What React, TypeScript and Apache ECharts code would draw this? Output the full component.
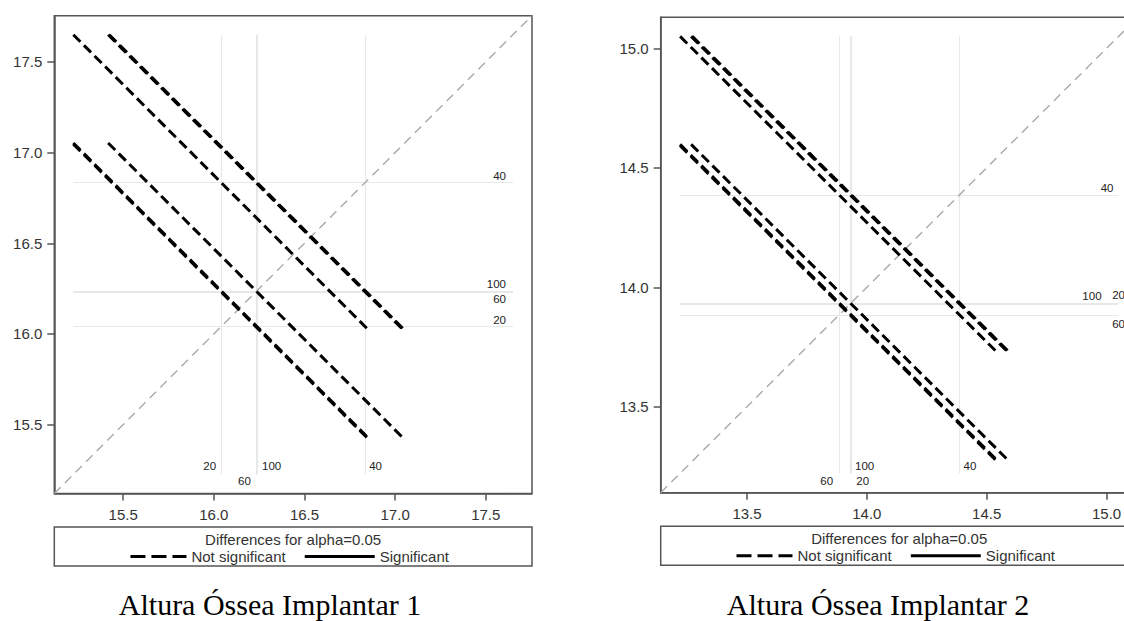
import { useEffect, useRef } from 'react';
import * as echarts from 'echarts';

// Group levels and their least-squares means
const levels = ['20', '40', '60', '100'];
const meansImplant1 = [16.04, 16.835, 16.232, 16.238];
const meansImplant2 = [13.935, 14.387, 13.884, 13.93];

// Half-width of the confidence interval of each pairwise difference
const diffHalfWidth1 = 1.63;
const diffHalfWidth2 = 1.326;

// Axis extents (same on both axes) and tick values
const axisRange1 = [15.12, 17.755];
const axisRange2 = [13.14, 15.13];
const ticks1 = [15.5, 16.0, 16.5, 17.0, 17.5];
const ticks2 = [13.5, 14.0, 14.5, 15.0];

const titles = ['Altura Óssea Implantar 1', 'Altura Óssea Implantar 2'];
const legendTitle = 'Differences for alpha=0.05';
const legendNotSig = 'Not significant';
const legendSig = 'Significant';

type Place = [number, number, 'left' | 'right'];

interface PanelLayout {
  left: number;
  top: number;
  width: number;
  height: number;
  titleX: number;
  bottomLabels: Record<string, Place>;
  sideLabels: Record<string, Place>;
}

const sansFont = "'Liberation Sans', Arial, Helvetica, sans-serif";
const serifFont = "'Liberation Serif', 'Times New Roman', serif";
const frameColor = '#555555';
const textColor = '#333333';
const levelLabelColor = '#222222';

const layouts: PanelLayout[] = [
  {
    left: 54.3,
    top: 15.7,
    width: 477.7,
    height: 477.8,
    titleX: 270,
    bottomLabels: {
      '20': [-5, -8, 'right'],
      '40': [4, -8, 'left'],
      '60': [-5, 7, 'right'],
      '100': [5, -8, 'left'],
    },
    sideLabels: {
      '40': [-7, -7, 'right'],
      '100': [-7, -7, 'right'],
      '60': [-7, 7.5, 'right'],
      '20': [-7, -7, 'right'],
    },
  },
  {
    left: 660.7,
    top: 17.3,
    width: 477,
    height: 475.4,
    titleX: 878,
    bottomLabels: {
      '20': [5, 8, 'left'],
      '40': [4, -7, 'left'],
      '60': [-6, 8, 'right'],
      '100': [5, -7, 'left'],
    },
    sideLabels: {
      '40': [-5, -7, 'right'],
      '100': [-17, -7.5, 'right'],
      '20': [6.5, -7.5, 'right'],
      '60': [6.5, 9, 'right'],
    },
  },
];

const panels = [
  { means: meansImplant1, half: diffHalfWidth1, range: axisRange1, ticks: ticks1 },
  { means: meansImplant2, half: diffHalfWidth2, range: axisRange2, ticks: ticks2 },
];

function buildOption() {
  const grid: any[] = [];
  const xAxis: any[] = [];
  const yAxis: any[] = [];
  const series: any[] = [];
  const graphic: any[] = [];

  panels.forEach((p, i) => {
    const L = layouts[i];
    const d = p.half / 2;
    const lo = Math.min(...p.means) - d;
    const hi = Math.max(...p.means) + d;

    grid.push({
      left: L.left,
      top: L.top,
      width: L.width,
      height: L.height,
      show: true,
      borderColor: frameColor,
      borderWidth: 1.5,
      backgroundColor: 'transparent',
    });

    const axisCommon = (ticks: number[]) => ({
      type: 'value',
      gridIndex: i,
      min: p.range[0],
      max: p.range[1],
      splitLine: { show: false },
      axisLine: { show: true, lineStyle: { color: frameColor, width: 1.5 } },
      axisTick: {
        show: true,
        customValues: ticks,
        length: 7,
        lineStyle: { color: frameColor, width: 1.5 },
      },
      axisLabel: {
        customValues: ticks,
        formatter: (v: number) => v.toFixed(1),
        fontSize: 15,
        fontFamily: sansFont,
        color: textColor,
      },
    });

    const xa: any = axisCommon(p.ticks);
    xa.axisLabel.margin = 13;
    const ya: any = axisCommon(p.ticks);
    ya.axisLabel.margin = 12;
    xAxis.push(xa);
    yAxis.push(ya);

    // reference lines at each mean
    const refLines: any[] = [];
    p.means.forEach((m) => {
      refLines.push({ coords: [[m, lo], [m, hi]] });
      refLines.push({ coords: [[lo, m], [hi, m]] });
    });
    series.push({
      type: 'lines',
      coordinateSystem: 'cartesian2d',
      xAxisIndex: i,
      yAxisIndex: i,
      silent: true,
      data: refLines,
      lineStyle: { color: '#e8e8e8', width: 1.2, opacity: 1 },
      z: 1,
    });

    // identity diagonal
    series.push({
      type: 'lines',
      coordinateSystem: 'cartesian2d',
      xAxisIndex: i,
      yAxisIndex: i,
      silent: true,
      data: [{ coords: [[p.range[0], p.range[0]], [p.range[1], p.range[1]]] }],
      lineStyle: { color: '#a9a9a9', width: 1.4, type: [9, 6], opacity: 1 },
      z: 2,
    });

    // one segment per pair of levels, centred on (smaller mean, larger mean)
    const notSig: any[] = [];
    const sig: any[] = [];
    for (let a = 0; a < levels.length; a++) {
      for (let b = a + 1; b < levels.length; b++) {
        const ma = p.means[a];
        const mb = p.means[b];
        const x = Math.min(ma, mb);
        const y = Math.max(ma, mb);
        const seg = { coords: [[x - d, y + d], [x + d, y - d]] };
        if (Math.abs(ma - mb) > p.half) sig.push(seg);
        else notSig.push(seg);
      }
    }
    series.push({
      type: 'lines',
      coordinateSystem: 'cartesian2d',
      xAxisIndex: i,
      yAxisIndex: i,
      silent: true,
      data: notSig,
      lineStyle: { color: '#000', width: 3, type: [10, 5], opacity: 1, cap: 'butt' },
      z: 3,
    });
    series.push({
      type: 'lines',
      coordinateSystem: 'cartesian2d',
      xAxisIndex: i,
      yAxisIndex: i,
      silent: true,
      data: sig,
      lineStyle: { color: '#000', width: 3, type: 'solid', opacity: 1 },
      z: 3,
    });

    // level labels at the ends of the reference lines
    const labelItem = (name: string, value: number[], place: Place) => ({
      name,
      value,
      label: {
        position: [place[0], place[1]],
        align: place[2],
        color: levelLabelColor,
      },
    });
    const labelData: any[] = [];
    levels.forEach((lv, k) => {
      const m = p.means[k];
      labelData.push(labelItem(lv, [m, lo], L.bottomLabels[lv]));
      labelData.push(labelItem(lv, [hi, m], L.sideLabels[lv]));
    });
    series.push({
      type: 'scatter',
      xAxisIndex: i,
      yAxisIndex: i,
      silent: true,
      symbol: 'rect',
      symbolSize: 0,
      itemStyle: { color: levelLabelColor, opacity: 0 },
      data: labelData,
      label: {
        show: true,
        formatter: (q: any) => q.name,
        fontSize: 11.5,
        fontFamily: sansFont,
        color: levelLabelColor,
        opacity: 1,
        textBorderWidth: 0,
        textBorderColor: 'transparent',
        verticalAlign: 'middle',
      },
      z: 4,
    });

    // legend box below the plot
    const boxTop = L.top + L.height + 33.5;
    const boxH = 39;
    const cx = L.left + L.width / 2;
    const row1 = boxTop + 12;
    const row2 = boxTop + 29.5;
    const textStyle = (text: string, align: string) => ({
      text,
      fontSize: 15,
      fontFamily: sansFont,
      fill: textColor,
      align,
      verticalAlign: 'middle',
    });
    graphic.push(
      {
        type: 'rect',
        shape: { x: L.left, y: boxTop, width: L.width, height: boxH },
        style: { fill: 'none', stroke: frameColor, lineWidth: 1.5 },
        silent: true,
      },
      { type: 'text', x: cx, y: row1, style: textStyle(legendTitle, 'center'), silent: true },
      {
        type: 'line',
        shape: { x1: cx - 162.7, y1: row2, x2: cx - 106.7, y2: row2 },
        style: { stroke: '#000', lineWidth: 3, lineDash: [15, 6] },
        silent: true,
      },
      { type: 'text', x: cx - 101.7, y: row2, style: textStyle(legendNotSig, 'left'), silent: true },
      {
        type: 'line',
        shape: { x1: cx + 11.6, y1: row2, x2: cx + 81.6, y2: row2 },
        style: { stroke: '#000', lineWidth: 3 },
        silent: true,
      },
      { type: 'text', x: cx + 86.6, y: row2, style: textStyle(legendSig, 'left'), silent: true },
      {
        type: 'text',
        x: L.titleX,
        y: 604,
        style: {
          text: titles[i],
          fontSize: 30,
          fontFamily: serifFont,
          fill: '#000',
          align: 'center',
          verticalAlign: 'middle',
        },
        silent: true,
      }
    );
  });

  return {
    animation: false,
    backgroundColor: '#ffffff',
    grid,
    xAxis,
    yAxis,
    series,
    graphic,
  };
}

export default function App() {
  const ref = useRef<HTMLDivElement>(null);

  useEffect(() => {
    if (!ref.current) return;
    const chart = echarts.init(ref.current, undefined, { renderer: 'svg' });
    chart.setOption(buildOption() as any);
    return () => chart.dispose();
  }, []);

  return (
    <div
      style={{
        position: 'fixed',
        left: 0,
        top: 0,
        width: 1124,
        height: 621,
        overflow: 'hidden',
        background: '#fff',
      }}
    >
      <div ref={ref} style={{ width: 1150, height: 621 }} />
    </div>
  );
}
